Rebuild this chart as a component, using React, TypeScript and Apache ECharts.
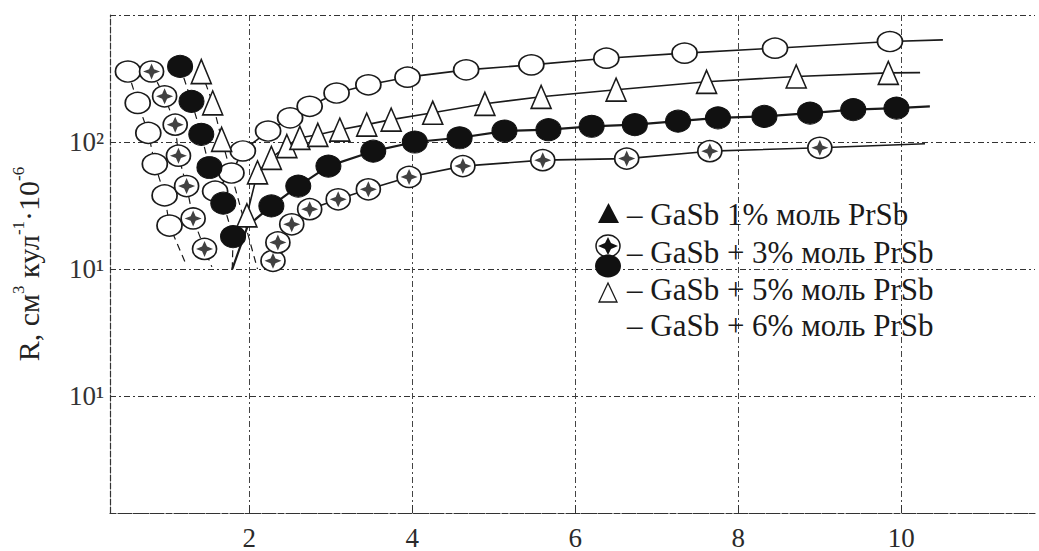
import React, { useEffect, useRef } from 'react';
import * as echarts from 'echarts';

// ---- axis ticks ----
const xTicks = [2, 4, 6, 8, 10];
const yTickText: Record<string, string> = { '2': '10²', '1': '10¹', '0': '10¹' };

// ---- open circles ----
const openDescX = [0.51, 0.63, 0.76, 0.84, 0.96, 1.02];
const openDescR = [359, 203, 118, 67, 38, 22];
const openTurn = [1.23, 10.6];
const openAscX = [1.58, 1.78, 1.92, 2.23, 2.5, 2.74, 3.07, 3.46, 3.94, 4.66, 5.46, 6.38, 7.34, 8.45, 9.86];
const openAscR = [41, 57, 85, 122, 155, 191, 243, 282, 324, 370, 405, 457, 501, 548, 618];
const openEnd = [10.51, 637];

// ---- circled stars ----
const starDescX = [0.8, 0.96, 1.09, 1.13, 1.23, 1.31, 1.45];
const starDescR = [359, 229, 137, 78, 45, 25, 14.4];
const starTurn = [1.54, 10.4];
const starAscX = [2.29, 2.35, 2.52, 2.74, 3.09, 3.46, 3.96, 4.62, 5.6, 6.63, 7.65, 9.0];
const starAscR = [11.6, 16.2, 22.5, 29.6, 35.4, 42.4, 53.1, 64.6, 72, 74, 84.7, 90.1];
const starEnd = [10.29, 97];

// ---- filled circles ----
const fillDescX = [1.15, 1.29, 1.41, 1.51, 1.68, 1.8];
const fillDescR = [394, 209, 115, 63, 33, 18];
const fillTurn = [1.79, 10];
const fillRise = [1.98, 21.9];
const fillAscX = [2.27, 2.6, 2.97, 3.52, 4.03, 4.58, 5.13, 5.67, 6.2, 6.73, 7.26, 7.75, 8.32, 8.88, 9.41, 9.94];
const fillAscR = [31.4, 45, 64.6, 84.7, 100, 108, 122, 125, 133, 137, 146, 155, 159, 169, 180, 185];
const fillEnd = [10.35, 191];

// ---- open triangles ----
const triDescX = [1.41, 1.55, 1.66];
const triDescR = [359, 203, 105];
const triTurn = [2.1, 10];
const triAscX = [1.97, 2.1, 2.27, 2.46, 2.62, 2.84, 3.11, 3.44, 3.74, 4.25, 4.89, 5.58, 6.5, 7.61, 8.71, 9.84];
const triAscR = [26.5, 57.7, 75, 93, 108, 114, 125, 137, 150, 170, 200, 227, 258, 298, 328, 350];
const triEnd = [10.23, 352];

// ---- legend ----
const legendLines = [
  '– GaSb 1% моль PrSb',
  '– GaSb + 3% моль PrSb',
  '– GaSb + 5% моль PrSb',
  '– GaSb + 6% моль PrSb',
];

const FONT = "'Liberation Serif', 'DejaVu Serif', serif";
const INK = '#1a1a1a';
const STAR_PATH = 'path://M50,2 L64,36 L98,50 L64,64 L50,98 L36,64 L2,50 L36,36 Z';

const pts = (xs: number[], rs: number[]) => xs.map((x, i) => [x, rs[i]]);
const bare = (p: number[]) => ({ value: p, symbol: 'none' });

export default function App() {
  const ref = useRef<HTMLDivElement>(null);
  useEffect(() => {
    if (!ref.current) return;
    const chart = echarts.init(ref.current, undefined, { renderer: 'svg' });

    const dashLine = { color: INK, width: 1.2, type: [7, 5] as any };
    const solidLine = (w: number) => ({ color: INK, width: w, type: 'solid' as any });
    const openItem = { color: '#fff', borderColor: INK, borderWidth: 1.6 };
    const fillItem = { color: '#111', borderColor: '#111', borderWidth: 1 };

    const lineSeries = (name: string, data: any[], lineStyle: any, symbol: string, size: number[], itemStyle: any) => ({
      name, type: 'line', data, symbol, symbolSize: size, showSymbol: true,
      lineStyle, itemStyle, z: 3,
    });

    const option: any = {
      animation: false,
      backgroundColor: '#fff',
      grid: { left: 110, right: 4, top: 15, bottom: 36, containLabel: false },
      xAxis: {
        type: 'value', min: 0.29, max: 11.64,
        axisLine: { show: true, lineStyle: { color: '#333', width: 1.2, type: [6, 2] } },
        axisTick: { show: true, inside: true, length: 8, customValues: xTicks, lineStyle: { color: '#333' } },
        axisLabel: {
          customValues: xTicks, margin: 11, fontFamily: FONT, fontSize: 27, color: '#2a2a2a',
        },
        splitLine: { show: true, lineStyle: { color: '#444', width: 1, type: [6, 3, 2, 3] } },
      },
      yAxis: {
        type: 'log', logBase: 10, min: 0.12, max: 1000,
        name: '{a|R, см}{s|3}{a| кул}{s|-1}{a|·10}{s|-6}',
        nameLocation: 'middle', nameRotate: 90, nameGap: 64,
        nameTextStyle: {
          rich: {
            a: { fontFamily: FONT, fontSize: 30, color: '#222', lineHeight: 36 },
            s: { fontFamily: FONT, fontSize: 17, color: '#222', verticalAlign: 'top', lineHeight: 36 },
          },
        },
        axisLine: { show: true, lineStyle: { color: '#333', width: 1.2, type: [6, 2] } },
        axisTick: { show: false },
        axisLabel: {
          margin: 6, fontFamily: FONT, fontSize: 27, color: '#333',
          formatter: (v: number) => {
            const k = String(Math.round(Math.log10(v) * 1000) / 1000);
            return yTickText[k] ?? '';
          },
        },
        splitLine: { show: true, lineStyle: { color: '#333', width: 1, type: [6, 3, 2, 3] } },
      },
      series: [
        lineSeries('open-desc', [...pts(openDescX, openDescR), bare(openTurn)], dashLine, 'circle', [25, 21], openItem),
        lineSeries('open-asc', [...pts(openAscX, openAscR), bare(openEnd)], solidLine(1.6), 'circle', [25, 20], openItem),
        lineSeries('tri-desc', [...pts(triDescX, triDescR), bare(triTurn)], dashLine, 'triangle', [20, 24], openItem),
        lineSeries('tri-asc', [...pts(triAscX, triAscR), bare(triEnd)], solidLine(1.6), 'triangle', [20, 23], openItem),
        lineSeries('fill-desc', [...pts(fillDescX, fillDescR), bare(fillTurn)], dashLine, 'circle', [25, 22], fillItem),
        lineSeries('fill-asc', [bare(fillTurn), bare(fillRise), ...pts(fillAscX, fillAscR), bare(fillEnd)], solidLine(2.2), 'circle', [25, 22], fillItem),
        lineSeries('star-desc', [...pts(starDescX, starDescR), bare(starTurn)], dashLine, 'circle', [24, 21], openItem),
        lineSeries('star-asc', [...pts(starAscX, starAscR), bare(starEnd)], solidLine(1.6), 'circle', [24, 21], openItem),
        {
          name: 'star-marks', type: 'scatter', z: 4,
          data: [...pts(starDescX, starDescR), ...pts(starAscX, starAscR)],
          symbol: STAR_PATH, symbolSize: [17, 16], itemStyle: { color: '#111' },
        },
      ],
      graphic: [
        // row 1: filled triangle
        { type: 'polygon', shape: { points: [[598, 223], [619, 223], [608.5, 203]] }, style: { fill: '#111' }, z: 10 },
        // row 2: circled star
        { type: 'ellipse', shape: { cx: 608, cy: 246, rx: 12, ry: 11 }, style: { fill: '#fff', stroke: INK, lineWidth: 1.5 }, z: 10 },
        { type: 'polygon', shape: { points: [[608, 237], [611, 243], [618, 246], [611, 249], [608, 255], [605, 249], [598, 246], [605, 243]] }, style: { fill: '#111' }, z: 11 },
        // filled circle between rows 2 and 3
        { type: 'ellipse', shape: { cx: 608, cy: 266, rx: 13, ry: 11.5 }, style: { fill: '#111' }, z: 10 },
        // row 3: open triangle
        { type: 'polygon', shape: { points: [[599, 302], [617, 302], [608, 283]] }, style: { fill: '#fff', stroke: INK, lineWidth: 1.3 }, z: 10 },
        ...legendLines.map((t, i) => ({
          type: 'text', x: 627, y: [214, 252, 289, 325][i], z: 10,
          style: {
            text: t, font: "31px 'Liberation Serif', 'DejaVu Serif', serif",
            fill: '#1a1a1a', verticalAlign: 'middle', align: 'left',
          },
        })),
      ],
    };
    chart.setOption(option);
    return () => chart.dispose();
  }, []);

  return <div ref={ref} style={{ position: 'absolute', left: 0, top: 0, width: 1039, height: 551 }} />;
}
